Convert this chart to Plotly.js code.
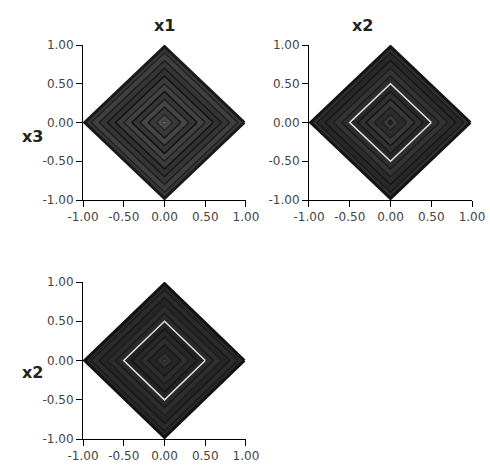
<!DOCTYPE html>
<html>
<head>
<meta charset="utf-8">
<script src="https://cdn.plot.ly/plotly-3.0.1.min.js"></script>
<style>html,body{margin:0;padding:0;background:#fff;}#plot{width:490px;height:466px;}</style>
</head>
<body>
<div id="plot"></div>
<script>
// Ring radii (|a|+|b| = r), from outside to inside
const radii = [0.98, 0.9, 0.8, 0.7, 0.6, 0.5, 0.4, 0.3, 0.2, 0.1, 0.03];
// Grey levels (0-255) of band fill and ring line for each panel
const fillP1 = [56, 64, 54, 50, 60, 66, 54, 70, 58, 76, 110];
const lineP1 = [26, 34, 30, 24, 18, 32, 16, 28, 24, 38, 60];
const fillP2 = [48, 40, 44, 52, 46, 40, 48, 56, 44, 60, 40];
const lineP2 = [20, 26, 22, 30, 28, 225, 24, 20, 30, 34, 30];
const fillP3 = [40, 44, 38, 46, 42, 36, 40, 46, 38, 50, 70];
const lineP3 = [18, 28, 24, 30, 26, 220, 22, 28, 24, 30, 40];
const colTitles = ["x1", "x2"];
const rowTitles = ["x3", "x2"];
const tickVals = [-1, -0.5, 0, 0.5, 1];
const tickText = ["-1.00", "-0.50", "0.00", "0.50", "1.00"];

function grey(v){ return 'rgb(' + v + ',' + v + ',' + v + ')'; }

const panels = [
  {xa: 'x', ya: 'y', fill: fillP1, line: lineP1},
  {xa: 'x2', ya: 'y2', fill: fillP2, line: lineP2},
  {xa: 'x3', ya: 'y3', fill: fillP3, line: lineP3}
];

const traces = [];
panels.forEach(p => {
  radii.forEach((r, i) => {
    traces.push({
      type: 'scatter', mode: 'lines',
      x: [r, 0, -r, 0, r], y: [0, r, 0, -r, 0],
      xaxis: p.xa, yaxis: p.ya,
      fill: 'toself', fillcolor: grey(p.fill[i]),
      line: {color: grey(p.line[i]), width: i === 0 ? 3 : 1.6},
      hoverinfo: 'skip', showlegend: false
    });
  });
});

function axis(domain, anchor){
  return {
    domain: domain, anchor: anchor, range: [-1, 1],
    showgrid: false, zeroline: false, showline: true, linecolor: '#000', linewidth: 1,
    ticks: 'outside', ticklen: 6, tickcolor: '#000', tickwidth: 1,
    tickmode: 'array', tickvals: tickVals, ticktext: tickText,
    tickfont: {family: 'DejaVu Sans', size: 12, color: '#444'}
  };
}

const titleFont = {family: 'DejaVu Sans', size: 16, color: '#222', weight: 'bold'};
const layout = {
  width: 490, height: 466,
  margin: {l: 0, r: 0, t: 0, b: 0},
  paper_bgcolor: '#fff', plot_bgcolor: '#fff',
  showlegend: false,
  xaxis: axis([0.1694, 0.502], 'y'),
  yaxis: axis([0.5708, 0.9034], 'x'),
  xaxis2: axis([0.6306, 0.9633], 'y2'),
  yaxis2: axis([0.5708, 0.9034], 'x2'),
  xaxis3: axis([0.1694, 0.502], 'y3'),
  yaxis3: axis([0.0579, 0.3948], 'x3'),
  annotations: [
    {text: '<b>' + colTitles[0] + '</b>', x: 164/490, y: 1 - 14/466, xref: 'paper', yref: 'paper', showarrow: false, font: titleFont},
    {text: '<b>' + colTitles[1] + '</b>', x: 375/490, y: 1 - 14/466, xref: 'paper', yref: 'paper', showarrow: false, font: titleFont},
    {text: '<b>' + rowTitles[0] + '</b>', x: 20/490, y: 1 - 125/466, xref: 'paper', yref: 'paper', showarrow: false, font: titleFont},
    {text: '<b>' + rowTitles[1] + '</b>', x: 20/490, y: 1 - 384/466, xref: 'paper', yref: 'paper', showarrow: false, font: titleFont}
  ]
};

Plotly.newPlot('plot', traces, layout, {displayModeBar: false, staticPlot: true});
</script>
</body>
</html>
